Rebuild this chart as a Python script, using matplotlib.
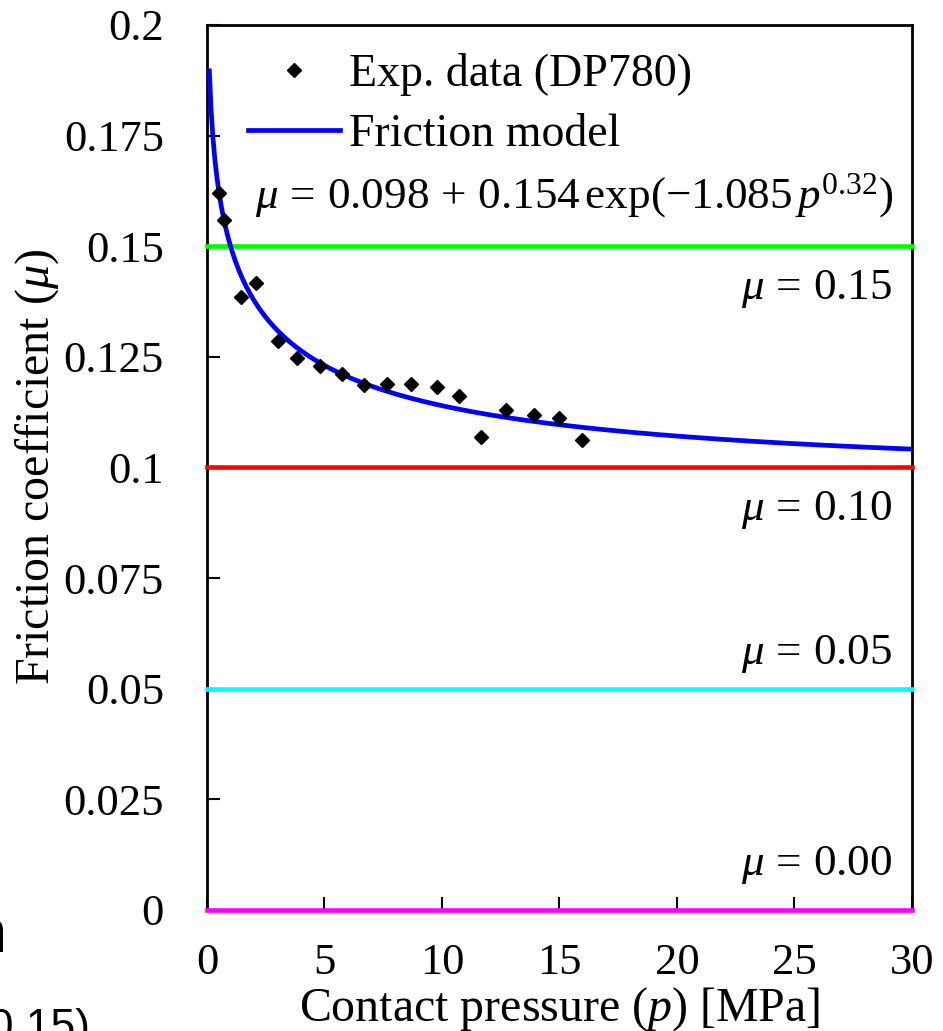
import numpy as np
import matplotlib
matplotlib.use("Agg")
import matplotlib.pyplot as plt

plt.rcParams["font.family"] = ["Liberation Serif", "DejaVu Serif"]
plt.rcParams["mathtext.fontset"] = "custom"
plt.rcParams["mathtext.rm"] = "Liberation Serif"
plt.rcParams["mathtext.it"] = "Liberation Serif:italic"

# Measured friction coefficients (DP780)
pressure = [0.51, 0.72, 1.45, 2.09, 3.02, 3.83, 4.81, 5.74, 6.68, 7.66,
            8.68, 9.79, 10.72, 11.66, 12.72, 13.91, 14.98, 15.96]
mu_exp = [0.162, 0.156, 0.1385, 0.1417, 0.1286, 0.1247, 0.1229, 0.1211,
          0.1186, 0.1189, 0.1189, 0.1182, 0.1162, 0.1069, 0.1130, 0.1119,
          0.1112, 0.1062]

# Pressure-dependent friction model: mu = A + B*exp(-C*p^N)
A, B, C, N = 0.098, 0.154, 1.085, 0.32
p_model = np.linspace(0.1, 30, 400)
mu_model = A + B * np.exp(-C * p_model ** N)

# Constant friction reference levels
mu_levels = [0.15, 0.10, 0.05, 0.00]
level_colors = ["#00ff00", "#ff0000", "#00ffff", "#ff00ff"]
level_labels = [r"$\mu\,=\,0.15$", r"$\mu\,=\,0.10$", r"$\mu\,=\,0.05$", r"$\mu\,=\,0.00$"]
label_offsets = [-38, -38, 18, 25]  # points, relative to the line

x_ticks = [0, 5, 10, 15, 20, 25, 30]
y_ticks = [0, 0.025, 0.05, 0.075, 0.1, 0.125, 0.15, 0.175, 0.2]
y_ticklabels = ["0", "0.025", "0.05", "0.075", "0.1", "0.125", "0.15", "0.175", "0.2"]

fig = plt.figure(figsize=(9.43, 10.31), dpi=100)
ax = fig.add_axes([0.2195, 0.1174, 0.7476, 0.8584])

for lvl, col, lab, off in zip(mu_levels, level_colors, level_labels, label_offsets):
    ax.axhline(lvl, color=col, lw=3.3, zorder=3, clip_on=False)
    ax.annotate(lab, xy=(1, lvl), xycoords=("axes fraction", "data"),
                xytext=(-14, off), textcoords="offset points",
                ha="right", va="baseline", fontsize=32.5)

ax.plot(pressure, mu_exp, "D", color="black", ms=7.5, zorder=5,
        label="Exp. data (DP780)")
ax.plot(p_model, mu_model, color="#0000ff", lw=3.4, zorder=4,
        label="Friction model")

ax.text(0.068, 0.793,
        r"$\mu\,=\,0.098\,+\,0.154\,\mathrm{exp}(-1.085\,p^{0.32})$",
        transform=ax.transAxes, ha="left", va="baseline", fontsize=32.5)

ax.legend(loc="upper left", bbox_to_anchor=(0.058, 0.968), frameon=False,
          fontsize=33, handlelength=2.0, handletextpad=0.2, labelspacing=0.37,
          borderpad=0, borderaxespad=0, numpoints=1)

ax.set_xlim(0, 30)
ax.set_ylim(0, 0.2)
ax.set_xticks(x_ticks)
ax.set_yticks(y_ticks)
ax.set_yticklabels(y_ticklabels)
ax.tick_params(axis="y", direction="in", length=9.5, width=1.5, pad=31, labelsize=32)
ax.tick_params(axis="x", direction="in", length=9.5, width=1.5, pad=24, labelsize=32)
for side in ["left", "right", "top", "bottom"]:
    ax.spines[side].set_linewidth(2)

ax.set_xlabel(r"Contact pressure ($p$) [MPa]", fontsize=34.5)
ax.xaxis.set_label_coords(0.5, -0.085)
ax.xaxis.label.set_va("top")
ax.set_ylabel(r"Friction coefficient ($\mu$)", fontsize=34.5)
ax.yaxis.set_label_coords(-0.207, 0.5)

# neighbouring panel text spilling into the frame
fig.text(7 / 943, 1 - 952 / 1031, "n", family="Liberation Sans", fontsize=44,
         ha="right", va="baseline")
fig.text(90 / 943, 1 - 1040 / 1031, "(0.15)", family="Liberation Sans",
         fontsize=32, ha="right", va="baseline")

fig.savefig("out.png", dpi=100)
